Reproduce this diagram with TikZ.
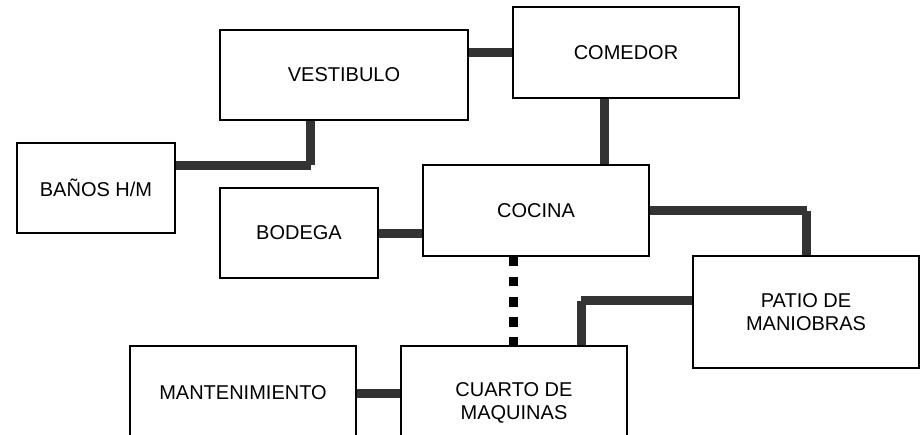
\documentclass[tikz,border=0pt]{standalone}
\usepackage{fontspec}
\setmainfont{Liberation Sans}
\usetikzlibrary{backgrounds}
\definecolor{conncol}{HTML}{333333}
\tikzset{
  roombox/.style={draw=black, line width=1.7pt, fill=white, inner sep=0pt, align=center,
    font=\fontsize{20}{23}\selectfont, rectangle},
  conn/.style={draw=conncol, line width=9pt, line cap=butt, line join=miter},
  dotconn/.style={draw=black, line width=9pt, line cap=butt, dash pattern=on 9.5pt off 10.6pt}
}
\begin{document}
\begin{tikzpicture}[x=1pt,y=-1pt]
\useasboundingbox (0,0) rectangle (920,435);
\clip (0,0) rectangle (920,435);
\node[roombox, minimum width=248pt, minimum height=90pt] (vest) at (344,75) {VESTIBULO};
\node[roombox, minimum width=226pt, minimum height=91pt] (com) at (626,52.5) {COMEDOR};
\node[roombox, minimum width=158pt, minimum height=90pt] (banos) at (96,188) {BAÑOS H/M};
\node[roombox, minimum width=158pt, minimum height=90pt] (bod) at (299,233) {BODEGA};
\node[roombox, minimum width=226pt, minimum height=91pt] (coc) at (536,210.5) {COCINA};
\node[roombox, minimum width=226pt, minimum height=112pt] (patio) at (806,312) {PATIO DE\\MANIOBRAS};
\node[roombox, minimum width=226pt, minimum height=94pt] (mant) at (243,393) {MANTENIMIENTO};
\node[roombox, minimum width=226pt, minimum height=114pt] (cuarto) at (514,403) {CUARTO DE\\MAQUINAS};
\coordinate (c1) at (310.5,165.3);
\coordinate (c2) at (604,0);
\coordinate (c4) at (0,234);
\coordinate (c5) at (806.7,211);
\coordinate (c6) at (581,301);
\coordinate (c7) at (513,0);
\coordinate (c8) at (0,393);
\begin{scope}[on background layer]
\draw[conn] (com.west) -- (com.west -| vest.east);
\draw[conn] (vest.south -| c1) -- (c1);
\draw[conn] (banos.east |- c1) -- (c1);
\draw[conn] (com.south -| c2) -- (coc.north -| c2);
\draw[conn] (bod.east |- c4) -- (coc.west |- c4);
\draw[conn] (coc.east |- c5) -- (c5);
\draw[conn] (patio.north -| c5) -- (c5);
\draw[conn] (patio.west |- c6) -- (c6);
\draw[conn] (cuarto.north -| c6) -- (c6);
\draw[dotconn] (coc.south -| c7) -- (cuarto.north -| c7);
\draw[conn] (mant.east |- c8) -- (cuarto.west |- c8);
\end{scope}
\end{tikzpicture}
\end{document}
